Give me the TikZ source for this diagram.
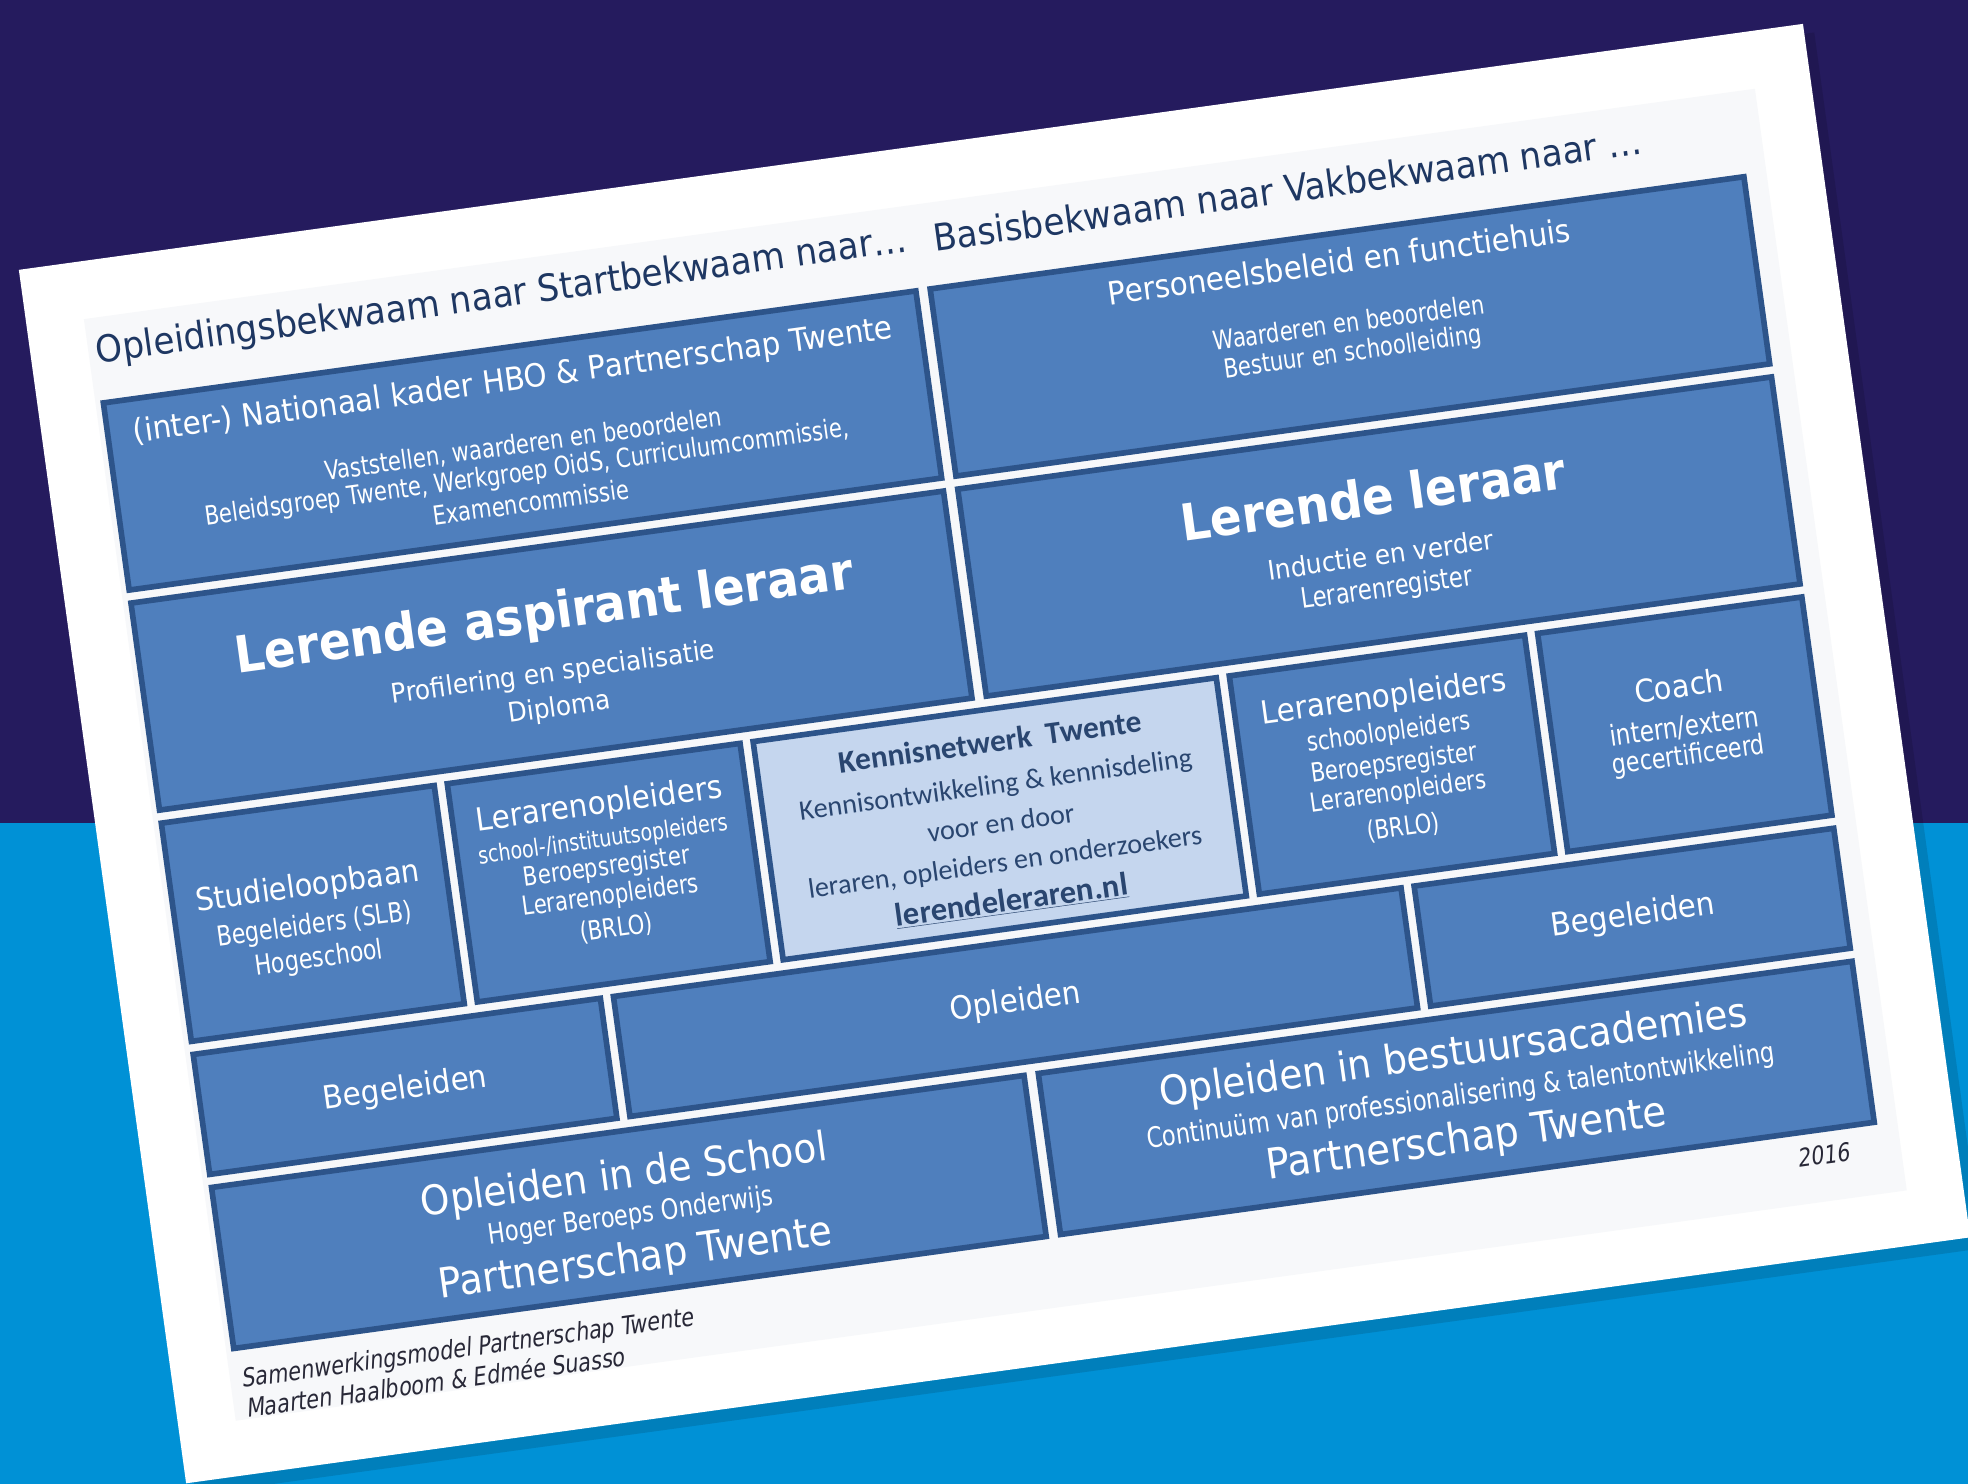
\documentclass[tikz,border=0pt]{standalone}
\usepackage{fontspec}
\setmainfont[FakeStretch=0.92]{DejaVu Sans}
\newfontfamily\condf[FakeStretch=0.8]{DejaVu Sans}
\newfontfamily\capf[FakeStretch=0.82,FakeSlant=0.18]{DejaVu Sans}
\newfontfamily\calf{Carlito}
\newcommand\fs[1]{\fontsize{#1}{#1}\selectfont}
\definecolor{navyc}{RGB}{37,27,94}
\definecolor{bluec}{RGB}{0,145,214}
\definecolor{slidec}{RGB}{247,248,250}
\definecolor{boxc}{RGB}{79,127,189}
\definecolor{bordc}{RGB}{45,84,138}
\definecolor{lightc}{RGB}{197,214,238}
\definecolor{titlec}{RGB}{30,55,98}
\definecolor{kenc}{RGB}{42,70,112}
\definecolor{capc}{RGB}{40,40,55}
\tikzset{
  box/.style={draw=bordc, fill=boxc, line width=4.5pt},
  lbox/.style={draw=bordc, fill=lightc, line width=4.5pt},
  wt/.style={text=white, inner sep=0pt, anchor=center},
  ttl/.style={text=titlec, inner sep=0pt, anchor=west, font={\fs{29.6}}},
  kt/.style={text=kenc, inner sep=0pt, anchor=center},
  capt/.style={text=capc, inner sep=0pt, anchor=west, font={\capf\fs{20.3}}},
}
\newcommand\slbox[6]{\node[#6, anchor=north west, outer sep=0pt, minimum width={#4-#2-4.5}, minimum height={#5-#3-4.5}] (#1) at ({#2+2.25},{#3+2.25}) {};}
\begin{document}
\begin{tikzpicture}[x=1pt,y=-1pt]
\useasboundingbox (0,0) rectangle (1568,1182);
\clip (0,0) rectangle (1568,1182);
\fill[navyc] (0,0) rectangle (1568,656);
\fill[bluec] (0,656) rectangle (1568,1182);
\begin{scope}[shift={(15,215)}, rotate=7.85, every node/.append style={transform shape}]
  % paper and shadow
  \fill[black, opacity=0.12] (6,8) rectangle (1443,986);
  \fill[white] (0,0) rectangle (1435,976);
  \fill[slidec] (46,46) rectangle (1390,932);
  % boxes
  \slbox{b1}{50}{112}{708}{267}{box}
  \slbox{b2}{715}{112}{1374}{267}{box}
  \slbox{b3}{50}{273}{708}{444}{box}
  \slbox{b4}{715}{273}{1374}{444}{box}
  \slbox{bs}{50}{450}{274}{630}{box}
  \slbox{bl}{280}{450}{520}{630}{box}
  \slbox{bk}{526}{450}{903}{630}{lbox}
  \slbox{br}{909}{450}{1151}{630}{box}
  \slbox{bc}{1157}{450}{1374}{630}{box}
  \slbox{bg1}{50}{636}{382}{737}{box}
  \slbox{bo}{388}{636}{1026}{737}{box}
  \slbox{bg2}{1032}{636}{1374}{737}{box}
  \slbox{be1}{50}{743}{708}{877}{box}
  \slbox{be2}{715}{743}{1374}{877}{box}
  % titles
  \node[ttl] (t1) at (52,74) {Opleidingsbekwaam naar Startbekwaam naar…};
  \node[ttl] (t2) at (725,74) {Basisbekwaam naar Vakbekwaam naar …};
  % box 1
  \node[wt, font={\fs{25.5}}] (b1a) at (378,142) {(inter-) Nationaal kader HBO \& Partnerschap Twente};
  \node[wt, font={\condf\fs{21}}] (b1b) at (379,193) {Vaststellen, waarderen en beoordelen};
  \node[wt, font={\condf\fs{21}}] (b1c) at (379,216) {Beleidsgroep Twente, Werkgroep OidS, Curriculumcommissie,};
  \node[wt, font={\condf\fs{21}}] (b1d) at (379,239) {Examencommissie};
  % box 2
  \node[wt, font={\fs{25.5}}] (b2a) at (1043,137) {Personeelsbeleid en functiehuis};
  \node[wt, font={\condf\fs{21}}] (b2b) at (1044,186) {Waarderen en beoordelen};
  \node[wt, font={\condf\fs{21}}] (b2c) at (1044,211) {Bestuur en schoolleiding};
  % box 3
  \node[wt, font={\bfseries\fs{40.5}}] (b3a) at (377,331) {Lerende aspirant leraar};
  \node[wt, font={\fs{21.5}}] (b3b) at (378,377) {Profilering en specialisatie};
  \node[wt, font={\fs{21.5}}] (b3c) at (379,405) {Diploma};
  % box 4
  \node[wt, font={\bfseries\fs{40.5}}] (b4a) at (1044,326) {Lerende leraar};
  \node[wt, font={\fs{21.5}}] (b4b) at (1044,373) {Inductie en verder};
  \node[wt, font={\condf\fs{22.5}}] (b4c) at (1045,401) {Lerarenregister};
  % studieloopbaan
  \node[wt, font={\fs{25}}] (s1) at (161,519) {Studieloopbaan};
  \node[wt, font={\condf\fs{22}}] (s2) at (162,550) {Begeleiders (SLB)};
  \node[wt, font={\condf\fs{22}}] (s3) at (162,577) {Hogeschool};
  % lerarenopleiders left
  \node[wt, font={\fs{25.5}}] (l1) at (400,486) {Lerarenopleiders};
  \node[wt, font={\condf\fs{19}}] (l2) at (399,514) {school-/instituutsopleiders};
  \node[wt, font={\condf\fs{21}}] (l3) at (399,536) {Beroepsregister};
  \node[wt, font={\condf\fs{21}}] (l4) at (399,559) {Lerarenopleiders};
  \node[wt, font={\condf\fs{21}}] (l5) at (400,585) {(BRLO)};
  % kennisnetwerk
  \node[kt, font={\calf\bfseries\fs{25}}] (k1) at (715,478) {Kennisnetwerk\ \ Twente};
  \node[kt, font={\calf\fs{22.5}}] (k2) at (715,514) {Kennisontwikkeling \& kennisdeling};
  \node[kt, font={\calf\fs{22.5}}] (k3) at (715,543) {voor en door};
  \node[kt, font={\calf\fs{22.5}}] (k4) at (714,576) {leraren, opleiders en onderzoekers};
  \node[kt, font={\calf\bfseries\fs{26}}] (k5) at (715,606) {\underline{lerendeleraren.nl}};
  % lerarenopleiders right
  \node[wt, font={\fs{25.5}}] (r1) at (1031,487) {Lerarenopleiders};
  \node[wt, font={\condf\fs{21}}] (r2) at (1031,515) {schoolopleiders};
  \node[wt, font={\condf\fs{21}}] (r3) at (1032,540) {Beroepsregister};
  \node[wt, font={\condf\fs{21}}] (r4) at (1032,563) {Lerarenopleiders};
  \node[wt, font={\condf\fs{21}}] (r5) at (1032,591) {(BRLO)};
  % coach
  \node[wt, font={\fs{25}}] (c1) at (1265,509) {Coach};
  \node[wt, font={\condf\fs{23}}] (c2) at (1265,542) {intern/extern};
  \node[wt, font={\condf\fs{22}}] (c3) at (1265,566) {gecertificeerd};
  % row D
  \node[wt, font={\fs{25.5}}] (g1) at (216,689) {Begeleiden};
  \node[wt, font={\fs{25.5}}] (o1) at (707,687) {Opleiden};
  \node[wt, font={\fs{25.5}}] (g2) at (1204,686) {Begeleiden};
  % row E
  \node[wt, font={\fs{32.5}}] (e1) at (379,782) {Opleiden in de School};
  \node[wt, font={\condf\fs{22.5}}] (e2) at (380,814) {Hoger Beroeps Onderwijs};
  \node[wt, font={\fs{33}}] (e3) at (379,849) {Partnerschap Twente};
  \node[wt, font={\fs{32.5}}] (f1) at (1047,776) {Opleiden in bestuursacademies};
  \node[wt, font={\condf\fs{22.5}}] (f2) at (1048,810) {Continuüm van professionalisering \& talentontwikkeling};
  \node[wt, font={\fs{33.5}}] (f3) at (1048,845) {Partnerschap Twente};
  % year and caption
  \node[text=capc, inner sep=0pt, font={\capf\fs{20}}] (yr) at (1328,895) {2016};
  \node[capt] (cap1) at (55,901) {Samenwerkingsmodel Partnerschap Twente};
  \node[capt] (cap2) at (55,923) {Maarten Haalboom \& Edmée Suasso};
\end{scope}
\end{tikzpicture}
\end{document}
